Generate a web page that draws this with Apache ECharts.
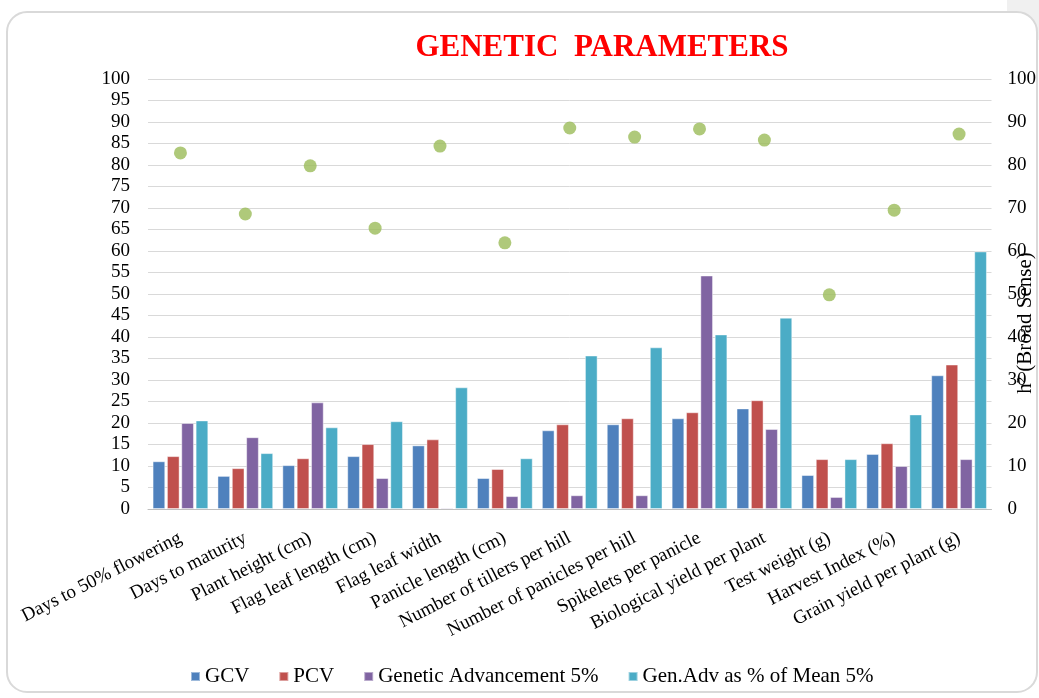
<!DOCTYPE html>
<html><head><meta charset="utf-8">
<script src="https://cdn.jsdelivr.net/npm/echarts@6/dist/echarts.min.js"></script>
<style>html,body{margin:0;padding:0;background:#fff}#c{width:1039px;height:698px}</style>
</head><body><div id="c"></div>
<script>
const categories = ["Days to 50% flowering","Days to maturity","Plant height (cm)","Flag leaf length (cm)","Flag leaf width","Panicle length (cm)","Number of tillers per hill","Number of panicles per hill","Spikelets per panicle","Biological yield per plant","Test weight (g)","Harvest Index (%)","Grain yield per plant (g)"];
const gcv = [11.1, 7.7, 10.2, 12.3, 14.8, 7.2, 18.3, 19.7, 21.1, 23.4, 7.9, 12.8, 31.1];
const pcv = [12.3, 9.5, 11.8, 15.1, 16.2, 9.3, 19.7, 21.1, 22.5, 25.3, 11.6, 15.3, 33.6];
const ga = [20.0, 16.7, 24.8, 7.2, 0.3, 3.0, 3.2, 3.2, 54.3, 18.6, 2.8, 10.0, 11.6];
const gam = [20.6, 13.0, 19.0, 20.4, 28.3, 11.8, 35.7, 37.6, 40.6, 44.5, 11.6, 22.0, 59.9];
const h2 = [82.8, 68.6, 79.8, 65.3, 84.4, 61.9, 88.6, 86.5, 88.4, 85.8, 49.8, 69.5, 87.2];
const seriesNames = ["GCV","PCV","Genetic Advancement 5%","Gen.Adv as % of Mean 5%"];
const colors = ["#4F81BD","#C0504D","#8064A2","#4BACC6"];
const leftTicks = {min:0, max:100, interval:5};
const rightTicks = {min:0, max:100, interval:10};

const F = "'Liberation Serif','Times New Roman',serif";
const chart = echarts.init(document.getElementById('c'));
const barData = [gcv, pcv, ga, gam];
const bars = barData.map((d,i)=>({
  name: seriesNames[i], type:'bar', data:d, yAxisIndex:0,
  barWidth:12.7, barGap:'13%',
  itemStyle:{color:colors[i], borderColor:'rgba(255,255,255,0.45)', borderWidth:1}
}));
chart.setOption({
  animation:false,
  graphic:[
    {type:'rect', z:-10, shape:{x:1007,y:0,width:32,height:40}, style:{fill:'#f0f0f0'}},
    {type:'rect', z:-9, shape:{x:7,y:12,width:1030,height:680,r:20}, style:{fill:'#fff', stroke:'#d9d9d9', lineWidth:2}},
    {type:'text', x:1025, y:323, rotation:Math.PI/2, style:{text:'h² (Broad Sense)', font:"21px "+F, fill:'#000', textAlign:'center', textVerticalAlign:'middle'}}
  ],
  title:{text:'GENETIC  PARAMETERS', left:597, top:27, textAlign:'center',
    textStyle:{color:'#ff0000', fontFamily:F, fontWeight:'bold', fontSize:31}},
  legend:{data:seriesNames, left:190, top:666, padding:0, icon:'rect', itemWidth:9, itemHeight:9, itemGap:29,
    textStyle:{fontFamily:F, fontSize:21, color:'#000'}},
  grid:{left:148, right:47, top:79, bottom:189, containLabel:false},
  xAxis:{type:'category', data:categories,
    axisLine:{lineStyle:{color:'#bfbfbf'}}, axisTick:{show:false},
    axisLabel:{interval:0, rotate:27, margin:28, fontFamily:F, fontSize:19, color:'#000'}},
  yAxis:[
    {type:'value', min:leftTicks.min, max:leftTicks.max, interval:leftTicks.interval,
      axisLine:{show:false}, axisTick:{show:false},
      splitLine:{lineStyle:{color:'#d9d9d9'}},
      axisLabel:{fontFamily:F, fontSize:19, color:'#000', margin:18}},
    {type:'value', min:rightTicks.min, max:rightTicks.max, interval:rightTicks.interval,
      axisLine:{show:false}, axisTick:{show:false}, splitLine:{show:false},
      axisLabel:{fontFamily:F, fontSize:19, color:'#000', margin:16}}
  ],
  series:[...bars,
    {name:'h²', type:'scatter', yAxisIndex:1, data:h2, symbol:'circle', symbolSize:13,
      itemStyle:{color:'#9BBB59'}}]
});
</script></body></html>
